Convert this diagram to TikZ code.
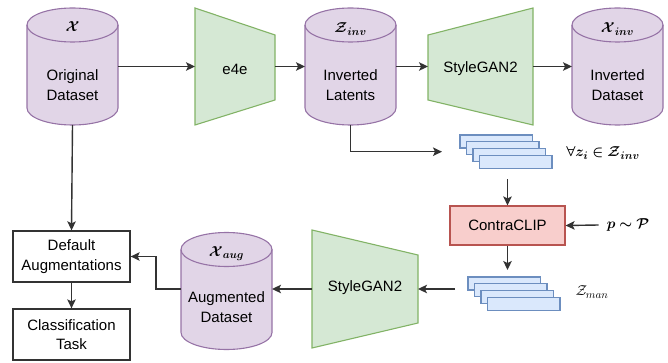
\documentclass[tikz,border=0pt]{standalone}
\usepackage{amsmath,bm}
\usepackage{fontspec}
\setmainfont{Liberation Sans}
\usetikzlibrary{arrows.meta,calc}
\definecolor{cylfill}{HTML}{E1D5E7}
\definecolor{cyldraw}{HTML}{9673A6}
\definecolor{gfill}{HTML}{D5E8D4}
\definecolor{gdraw}{HTML}{82B366}
\definecolor{bfill}{HTML}{DAE8FC}
\definecolor{bdraw}{HTML}{6C8EBF}
\definecolor{rfill}{HTML}{F8CECC}
\definecolor{rdraw}{HTML}{B85450}
\definecolor{arrc}{HTML}{333333}
\newcommand{\cylshape}[1]{%
  \draw[cylsty] ([yshift=-17pt]#1.north west) -- ([yshift=17pt]#1.south west)
    arc[start angle=180,end angle=360,x radius=45.5pt,y radius=17pt]
    -- ([yshift=-17pt]#1.north east)
    arc[start angle=0,end angle=180,x radius=45.5pt,y radius=17pt] -- cycle;
  \draw[cylsty,fill=none] ([yshift=-17pt]#1.north west)
    arc[start angle=180,end angle=360,x radius=45.5pt,y radius=17pt];}
\newcommand{\stackshape}[1]{%
  \foreach \k in {0,1,2,3}{
    \draw[stacksty] ($(#1.north west)+(6.5*\k,-6.8*\k)$) rectangle ++(72.5,-13);}}
\begin{document}
\begin{tikzpicture}[x=1pt,y=1pt,
  font=\fontsize{15}{19.5}\selectfont,
  area/.style={inner sep=0pt,outer sep=0pt,draw=none},
  cylsty/.style={draw=cyldraw,fill=cylfill,line width=1.1pt},
  gensty/.style={draw=gdraw,fill=gfill,line width=1.1pt},
  stacksty/.style={draw=bdraw,fill=bfill,line width=1.1pt},
  plainbox/.style={draw=arrc,fill=white,line width=1.3pt,inner sep=0pt,
    minimum width=117pt,minimum height=51pt,align=center},
  clipbox/.style={draw=rdraw,fill=rfill,line width=1.1pt,inner sep=0pt,
    minimum width=115pt,minimum height=39pt},
  txt/.style={align=center,inner sep=0pt},
  arr/.style={draw=arrc,line width=1.4pt,-{Stealth[length=9pt,width=8.5pt,inset=2pt]}}]
\useasboundingbox (0,0) rectangle (668,-363);

% cylinders (areas)
\node[area,minimum width=91pt,minimum height=117pt] (c1) at (72.5,-66.5) {};
\node[area,minimum width=91pt,minimum height=117pt] (c2) at (350.5,-66.5) {};
\node[area,minimum width=91pt,minimum height=117pt] (c3) at (617.5,-66.5) {};
\node[area,minimum width=91pt,minimum height=117pt] (c4) at (226.5,-291) {};
\cylshape{c1}\cylshape{c2}\cylshape{c3}\cylshape{c4}

\node[txt] (l1) at (72.5,-27) {$\bm{\mathcal{X}}$};
\node[txt] (t1) at (72.5,-85) {Original\\Dataset};
\node[txt] (l2) at (350.5,-29) {$\bm{\mathcal{Z}_{inv}}$};
\node[txt] (t2) at (350.5,-85) {Inverted\\Latents};
\node[txt] (l3) at (617.5,-29) {$\bm{\mathcal{X}_{inv}}$};
\node[txt] (t3) at (617.5,-85) {Inverted\\Dataset};
\node[txt] (l4) at (226.5,-254) {$\bm{\mathcal{X}_{aug}}$};
\node[txt] (t4) at (226.5,-307) {Augmented\\Dataset};

% generators
\node[area,minimum width=80pt,minimum height=117pt] (e4e) at (235,-66.5) {};
\draw[gensty] (e4e.north west) -- ([yshift=-27pt]e4e.north east)
  -- ([yshift=25pt]e4e.south east) -- (e4e.south west) -- cycle;
\node[txt] at (235,-69) {e4e};

\node[area,minimum width=105pt,minimum height=117pt] (g1) at (480.5,-66.5) {};
\draw[gensty] ([yshift=-27pt]g1.north west) -- (g1.north east)
  -- (g1.south east) -- ([yshift=25pt]g1.south west) -- cycle;
\node[txt] at (480.5,-69) {StyleGAN2};

\node[area,minimum width=106pt,minimum height=118pt] (g2) at (365,-289) {};
\draw[gensty] (g2.north west) -- ([yshift=-25pt]g2.north east)
  -- ([yshift=25pt]g2.south east) -- (g2.south west) -- cycle;
\node[txt] at (365,-288) {StyleGAN2};

% stacks
\node[area,minimum width=92pt,minimum height=33.4pt] (s1) at (506,-151.7) {};
\stackshape{s1}
\node[txt] (fz) at (603,-153) {$\bm{\forall z_i \in \mathcal{Z}_{inv}}$};

\node[area,minimum width=92pt,minimum height=33.4pt] (s2) at (514,-293.7) {};
\stackshape{s2}
\node[txt] (zm) at (592,-292) {$\mathcal{Z}_{man}$};

% ContraCLIP
\node[clipbox] (cc) at (507.5,-225.5) {ContraCLIP};
\node[txt] (pp) at (628,-225) {$\bm{p \sim \mathcal{P}}$};

% boxes
\node[plainbox] (da) at (71.5,-256.5) {Default\\Augmentations};
\node[plainbox] (ct) at (71.5,-334.5) {Classification\\Task};

% connectors
\draw[arr] (c1.east) -- (c1.east -| e4e.west);
\draw[arr] (e4e.east) -- (e4e.east -| c2.west);
\draw[arr] (c2.east) -- (c2.east -| g1.west);
\draw[arr] (g1.east) -- (g1.east -| c3.west);
\draw[arr] (c2.south) |- ([xshift=-18pt]s1.west);
\draw[arr] ([yshift=-11pt]cc.north |- s1.south) -- (cc.north);
\draw[arr] ([xshift=-8pt]pp.west) -- (cc.east);
\draw[arr] (cc.south) -- ([yshift=7pt]cc.south |- s2.north);
\draw[arr] ([xshift=-13pt]s2.west |- g2.east) -- (g2.east);
\draw[arr] (g2.west) -- (g2.west -| c4.east);
\draw[arr] (c4.west |- g2.west) -- ++(-25,0) |- (da.east);
\draw[arr] (c1.south) -- (da.north);
\draw[arr] (da.south) -- (ct.north);
\end{tikzpicture}
\end{document}
